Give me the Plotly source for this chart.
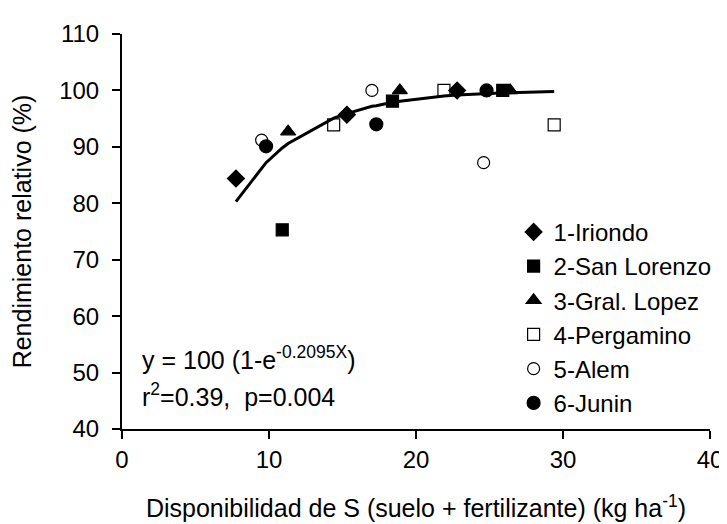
import plotly.graph_objects as go

# ---- data ----
series_names = ["1-Iriondo", "2-San Lorenzo", "3-Gral. Lopez", "4-Pergamino", "5-Alem", "6-Junin"]

iriondo_x = [7.75, 15.3, 22.8]
iriondo_y = [84.4, 95.7, 100.0]

san_lorenzo_x = [10.9, 18.4, 25.9]
san_lorenzo_y = [75.3, 98.1, 100.0]

gral_lopez_x = [11.3, 18.9, 26.4]
gral_lopez_y = [92.7, 100.0, 100.0]

pergamino_x = [14.4, 21.9, 29.4]
pergamino_y = [93.9, 100.0, 93.9]

alem_x = [9.5, 17.0, 24.6]
alem_y = [91.2, 100.0, 87.2]

junin_x = [9.8, 17.3, 24.8]
junin_y = [90.1, 94.0, 100.0]

# fitted curve y = 100(1-e^-0.2095x)
curve_x = [7.75, 9.5, 9.8, 10.9, 11.3, 14.4, 15.3, 17.0, 17.3, 18.4, 18.9,
           21.9, 22.8, 24.6, 24.8, 25.9, 26.4, 29.4]
curve_y = [80.3, 86.3, 87.2, 89.8, 90.6, 95.1, 95.9, 97.2, 97.3, 97.9, 98.1,
           99.0, 99.2, 99.4, 99.4, 99.6, 99.6, 99.8]

x_ticks = [0, 10, 20, 30, 40]
y_ticks = [40, 50, 60, 70, 80, 90, 100, 110]

FONT = "Liberation Sans, Arial, sans-serif"

fig = go.Figure()

fig.add_trace(go.Scatter(x=curve_x, y=curve_y, mode="lines",
                         line=dict(color="black", width=3),
                         showlegend=False, hoverinfo="skip"))

styles = [
    (iriondo_x, iriondo_y, "diamond", "black", 13),
    (san_lorenzo_x, san_lorenzo_y, "square", "black", 12),
    (gral_lopez_x, gral_lopez_y, "triangle-up", "black", 13),
    (pergamino_x, pergamino_y, "square-open", "black", 12),
    (alem_x, alem_y, "circle-open", "black", 12),
    (junin_x, junin_y, "circle", "black", 13),
]

for name, (xs, ys, sym, col, sz) in zip(series_names, styles):
    fig.add_trace(go.Scatter(
        x=xs, y=ys, mode="markers", name=name,
        marker=dict(symbol=sym, size=sz, color=col,
                    line=dict(color="black", width=1.2)),
    ))

fig.add_annotation(x=1.2, y=52.6, xref="x", yref="y",
                   text="y = 100 (1-e<sup>-0.2095X</sup>)",
                   showarrow=False, xanchor="left", yanchor="middle",
                   font=dict(family=FONT, size=25, color="black"))
fig.add_annotation(x=1.2, y=46.1, xref="x", yref="y",
                   text="r<sup>2</sup>=0.39,&nbsp;&nbsp;p=0.004",
                   showarrow=False, xanchor="left", yanchor="middle",
                   font=dict(family=FONT, size=25, color="black"))

fig.update_layout(
    width=727, height=524,
    margin=dict(l=114, r=17, t=20, b=103),
    paper_bgcolor="white", plot_bgcolor="white",
    font=dict(family=FONT, size=24, color="black"),
    legend=dict(x=0.666, y=0.555, xanchor="left", yanchor="top",
                bgcolor="rgba(0,0,0,0)", borderwidth=0,
                font=dict(family=FONT, size=24, color="black"),
                tracegroupgap=0),
    xaxis=dict(range=[0, 40], tickvals=x_ticks, showline=True, linecolor="black",
               linewidth=2, ticks="outside", ticklen=8, tickwidth=2,
               tickcolor="black", showgrid=False, zeroline=False,
               tickfont=dict(family=FONT, size=24),
               title=dict(text="Disponibilidad de S (suelo + fertilizante) (kg ha<sup>-1</sup>)",
                          font=dict(family=FONT, size=25), standoff=28)),
    yaxis=dict(range=[40, 110], tickvals=y_ticks, showline=True, linecolor="black",
               linewidth=2, ticks="outside", ticklen=8, tickwidth=2,
               tickcolor="black", showgrid=False, zeroline=False,
               ticklabelstandoff=8,
               tickfont=dict(family=FONT, size=24),
               title=dict(text="Rendimiento relativo (%)",
                          font=dict(family=FONT, size=25), standoff=20)),
)

fig.write_html("out.html")
